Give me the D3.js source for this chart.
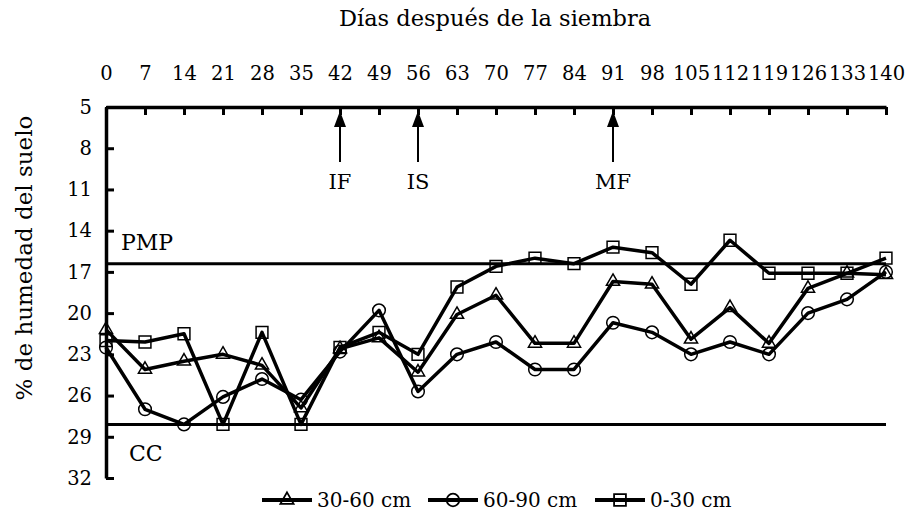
<!DOCTYPE html>
<html>
<head>
<meta charset="utf-8">
<script src="https://cdn.jsdelivr.net/npm/d3@7"></script>
<style>
  body { margin: 0; background: #fff; }
  text { font-family: 'DejaVu Serif', serif; fill: #000; }
</style>
</head>
<body>
<script>
// days after sowing
const days = [0, 7, 14, 21, 28, 35, 42, 49, 56, 63, 70, 77, 84, 91, 98, 105, 112, 119, 126, 133, 140];
const yTicks = [5, 8, 11, 14, 17, 20, 23, 26, 29, 32];

// soil moisture (%) per depth
const s3060 = [21.2, 24.1, 23.5, 23.0, 23.8, 26.9, 22.6, 21.8, 24.3, 20.1, 18.7, 22.2, 22.2, 17.7, 17.9, 21.9, 19.6, 22.2, 18.2, 17.1, 17.2];
const s6090 = [22.5, 27.0, 28.1, 26.1, 24.8, 26.3, 22.8, 19.8, 25.7, 23.0, 22.1, 24.1, 24.1, 20.7, 21.4, 23.0, 22.1, 23.0, 20.0, 19.0, 17.0];
const s030 = [22.0, 22.1, 21.5, 28.1, 21.4, 28.1, 22.5, 21.4, 23.0, 18.1, 16.6, 16.0, 16.4, 15.2, 15.6, 17.9, 14.7, 17.1, 17.1, 17.1, 16.0];

// reference lines and events
const pmp = 16.4;
const cc = 28.1;
const events = [{ day: 42, label: 'IF' }, { day: 56, label: 'IS' }, { day: 91, label: 'MF' }];

const series = [
  { name: '30-60 cm', values: s3060, symbol: d3.symbolTriangle, size: 75 },
  { name: '60-90 cm', values: s6090, symbol: d3.symbolCircle, size: 125 },
  { name: '0-30 cm', values: s030, symbol: d3.symbolSquare, size: 140 },
];

const width = 907, height = 516;
const margin = { top: 107, right: 21, bottom: 38, left: 106 };

const svg = d3.select('body').append('svg')
  .attr('width', width)
  .attr('height', height);

const x = d3.scaleLinear().domain([0, 140]).range([margin.left, width - margin.right]);
const y = d3.scaleLinear().domain([5, 32]).range([margin.top, height - margin.bottom]);

// top axis
svg.append('g')
  .attr('transform', `translate(0,${margin.top})`)
  .call(d3.axisTop(x).tickValues(days).tickSize(-8).tickSizeOuter(0).tickPadding(27))
  .call((g) => g.select('.domain').attr('stroke-width', 3.5))
  .call((g) => g.selectAll('.tick line').attr('stroke-width', 3))
  .call((g) => g.selectAll('.tick text').attr('font-size', 19.5).attr('font-family', 'DejaVu Serif'));

// left axis
svg.append('g')
  .attr('transform', `translate(${margin.left},0)`)
  .call(d3.axisLeft(y).tickValues(yTicks).tickSize(-8).tickSizeOuter(0).tickPadding(14))
  .call((g) => g.select('.domain').attr('stroke-width', 3.5))
  .call((g) => g.selectAll('.tick line').attr('stroke-width', 3))
  .call((g) => g.selectAll('.tick text').attr('font-size', 19.5).attr('font-family', 'DejaVu Serif'));

// PMP and CC lines
[pmp, cc].forEach((v) => {
  svg.append('line')
    .attr('x1', x(0)).attr('x2', x(140))
    .attr('y1', y(v)).attr('y2', y(v))
    .attr('stroke', '#000').attr('stroke-width', 3);
});
svg.append('text').attr('x', 121).attr('y', y(pmp) - 14).attr('font-size', 22).text('PMP');
svg.append('text').attr('x', 129).attr('y', y(cc) + 37).attr('font-size', 22).text('CC');

// event arrows
const arrows = svg.append('g');
events.forEach((e) => {
  const ax = x(e.day);
  arrows.append('line')
    .attr('x1', ax).attr('x2', ax)
    .attr('y1', y(5) + 18).attr('y2', y(9))
    .attr('stroke', '#000').attr('stroke-width', 2);
  arrows.append('path')
    .attr('d', `M${ax},${y(5) + 4}L${ax - 6},${y(5) + 20}L${ax + 6},${y(5) + 20}Z`)
    .attr('fill', '#000');
  arrows.append('text')
    .attr('x', ax).attr('y', 189)
    .attr('text-anchor', 'middle').attr('font-size', 21)
    .text(e.label);
});

// series lines + markers
const line = d3.line().x((d, i) => x(days[i])).y((d) => y(d));
series.forEach((s) => {
  svg.append('path')
    .datum(s.values)
    .attr('d', line)
    .attr('fill', 'none')
    .attr('stroke', '#000')
    .attr('stroke-width', 3.5)
    .attr('stroke-linejoin', 'round');
  svg.append('g')
    .selectAll('path')
    .data(s.values)
    .join('path')
    .attr('transform', (d, i) => `translate(${x(days[i])},${y(d)})`)
    .attr('d', d3.symbol().type(s.symbol).size(s.size))
    .attr('fill', 'none')
    .attr('stroke', '#000')
    .attr('stroke-width', 1.5);
});

// titles
svg.append('text')
  .attr('x', 495).attr('y', 26)
  .attr('text-anchor', 'middle').attr('font-size', 22.5)
  .text('Días después de la siembra');
svg.append('text')
  .attr('transform', 'translate(32,258) rotate(-90)')
  .attr('text-anchor', 'middle').attr('font-size', 23)
  .text('% de humedad del suelo');

// legend
const legendX = [262, 428, 595];
series.forEach((s, i) => {
  const lg = svg.append('g').attr('transform', `translate(${legendX[i]},500)`);
  lg.append('line').attr('x1', 0).attr('x2', 50).attr('stroke', '#000').attr('stroke-width', 4);
  lg.append('path')
    .attr('transform', 'translate(25,0)')
    .attr('d', d3.symbol().type(s.symbol).size(s.size))
    .attr('fill', 'none').attr('stroke', '#000').attr('stroke-width', 1.8);
  lg.append('text').attr('x', 55).attr('y', 7).attr('font-size', 20).text(s.name);
});
</script>
</body>
</html>
